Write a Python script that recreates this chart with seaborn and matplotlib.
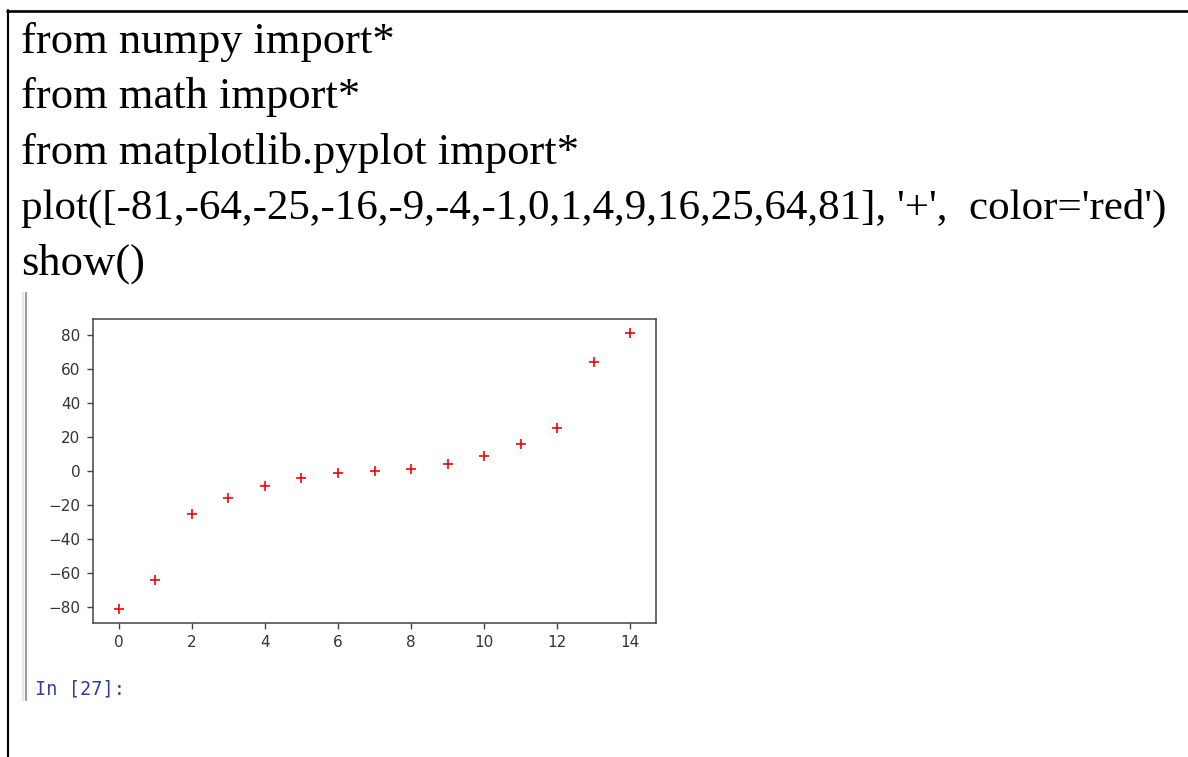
import matplotlib
matplotlib.use("Agg")
import matplotlib.pyplot as plt
from matplotlib.lines import Line2D
import seaborn as sns
import pandas as pd

# Code cell contents
code_lines = [
    "from numpy import*",
    "from math import*",
    "from matplotlib.pyplot import*",
    "plot([-81,-64,-25,-16,-9,-4,-1,0,1,4,9,16,25,64,81], '+',  color='red')",
    "show()",
]
code_sizes = [32, 32, 32, 31, 32]
prompt_label = "In [27]:"

# Plotted series
values = [-81, -64, -25, -16, -9, -4, -1, 0, 1, 4, 9, 16, 25, 64, 81]
index = list(range(len(values)))
x_ticks = [0, 2, 4, 6, 8, 10, 12, 14]
y_ticks = [-80, -60, -40, -20, 0, 20, 40, 60, 80]

sns.set_style("white")

W, H = 1188, 757
fig = plt.figure(figsize=(W / 100, H / 100), dpi=100)
fig.patch.set_facecolor("white")


def fx(px):
    return px / W


def fy(py):
    return 1 - py / H


# Cell border (top and left edges)
fig.add_artist(Line2D([fx(6.5), fx(W)], [fy(10.5), fy(10.5)], color="black", lw=1.9))
fig.add_artist(Line2D([fx(7.5), fx(7.5)], [fy(10), fy(H)], color="black", lw=1.5))

# Code text
baselines = [53, 108, 164, 219, 275]
for line, size, b in zip(code_lines, code_sizes, baselines):
    fig.text(fx(21), fy(b), line, family="Liberation Serif", fontsize=size,
             color="black", va="baseline", ha="left")

# Output gutter
fig.add_artist(Line2D([fx(23), fx(23)], [fy(293), fy(700)], color="#e6e6e6", lw=1.6))
fig.add_artist(Line2D([fx(25.5), fx(25.5)], [fy(293), fy(700)], color="#9a9a9a", lw=1.5))

# Prompt
fig.text(fx(35), fy(689), prompt_label, family="DejaVu Sans Mono", fontsize=13.4,
         color="#303F9F", va="center", ha="left")

# Plot
ax = fig.add_axes([fx(93), fy(623), fx(656 - 93), (623 - 319) / H])
df = pd.DataFrame({"i": index, "v": values})
sns.scatterplot(data=df, x="i", y="v", marker="+", color="red", s=55,
                linewidth=1.2, ax=ax, legend=False)
ax.set_xlim(-0.7, 14.7)
ax.set_ylim(-89.1, 89.1)
ax.set_xticks(x_ticks)
ax.set_yticks(y_ticks)
ax.set_xlabel("")
ax.set_ylabel("")
for s in ax.spines.values():
    s.set_visible(True)
    s.set_color("#444444")
    s.set_linewidth(1.1)
ax.tick_params(axis="both", which="both", direction="out", length=4.2, width=1.0,
               color="#444444", labelcolor="#333333", labelsize=11, left=True, bottom=True)
ax.tick_params(axis="y", pad=5)
ax.tick_params(axis="x", pad=4.5)
ax.grid(False)

fig.savefig("out.png", dpi=100, facecolor="white")
